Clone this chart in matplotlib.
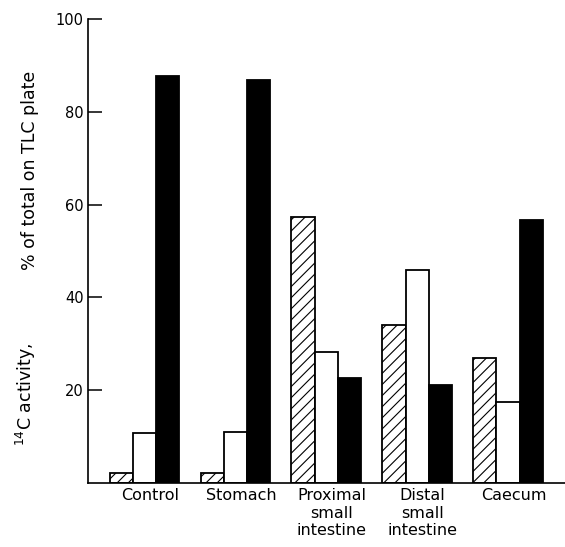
import numpy as np
import matplotlib
matplotlib.use('Agg')
import matplotlib.pyplot as plt

categories = ['Control', 'Stomach', 'Proximal\nsmall\nintestine', 'Distal\nsmall\nintestine', 'Caecum']
hatched = [2.2, 2.1, 57.4, 34.1, 26.9]
white = [10.7, 11.0, 28.2, 45.9, 17.4]
black = [87.7, 86.9, 22.7, 21.1, 56.8]
yticks = [20, 40, 60, 80, 100]

plt.rcParams['font.family'] = 'DejaVu Sans'
plt.rcParams['hatch.linewidth'] = 0.8

fig = plt.figure(figsize=(5.65, 5.47), dpi=100)
ax = fig.add_axes([88 / 565, 1 - 482.8 / 547, 1 - 88 / 565, (482.8 - 19.3) / 547])

x = np.arange(len(categories))
w = 0.256
ax.bar(x - w, hatched, w, color='white', edgecolor='black', hatch='///', linewidth=1.3)
ax.bar(x, white, w, color='white', edgecolor='black', linewidth=1.3)
ax.bar(x + w, black, w, color='black', edgecolor='black', linewidth=1.3)

ax.set_xlim(-0.622, 4.626)
ax.set_ylim(0, 100)
ax.spines['top'].set_visible(False)
ax.spines['right'].set_visible(False)
ax.spines['left'].set_linewidth(1.2)
ax.spines['bottom'].set_linewidth(1.2)

ax.set_yticks(yticks)
ax.tick_params(axis='y', direction='in', length=10, width=1.1, pad=3, labelsize=10.5)
ax.set_xticks(x + 0.06)
ax.set_xticklabels(categories, fontsize=11.5, linespacing=1.2)
ax.tick_params(axis='x', length=0, pad=4)

# y label, split in two parts like the original
fig.text(26 / 565, 1 - 394 / 547, '$^{14}$C activity,', rotation=90,
         ha='center', va='center', fontsize=12.5)
fig.text(30 / 565, 1 - 170 / 547, '% of total on TLC plate', rotation=90,
         ha='center', va='center', fontsize=12.5)

fig.savefig('out.png', dpi=100)
plt.close()
